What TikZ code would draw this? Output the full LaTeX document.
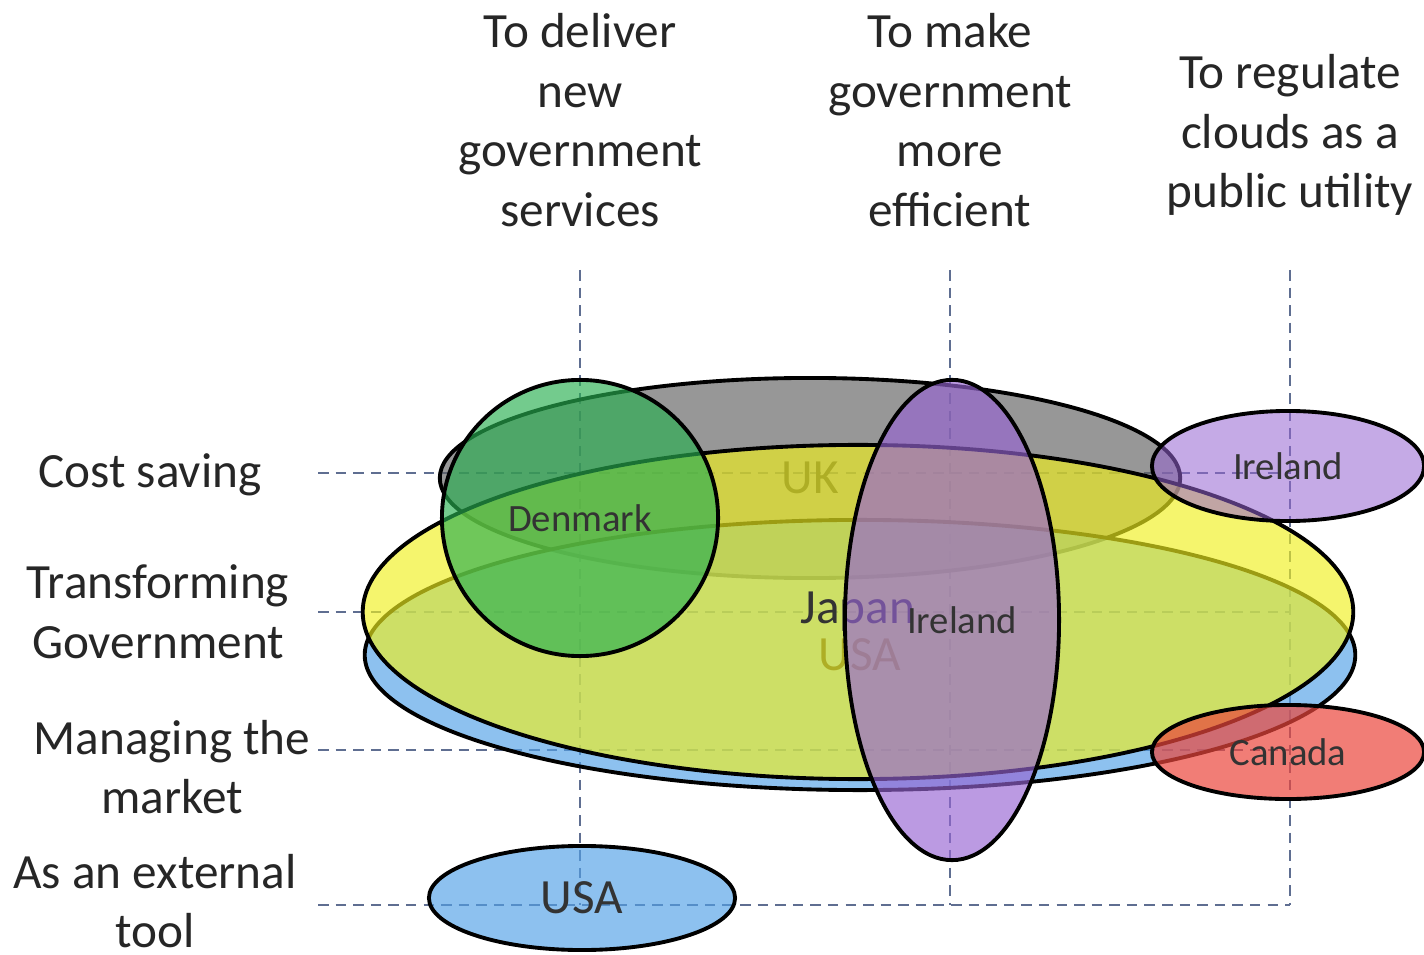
\documentclass[tikz,border=0pt]{standalone}
\usepackage{fontspec}
\setmainfont{Carlito}
\usetikzlibrary{shapes.geometric}
\definecolor{ukgray}{RGB}{95,95,95}
\definecolor{jpyellow}{RGB}{240,240,30}
\definecolor{usblue}{RGB}{80,160,230}
\definecolor{dkgreen}{RGB}{40,175,80}
\definecolor{iepurple}{RGB}{150,100,210}
\definecolor{cared}{RGB}{235,70,60}
\definecolor{guidecol}{RGB}{95,110,145}
\tikzset{
  zone/.style={ellipse,draw=black,line width=1.1pt,fill opacity=0.65,text opacity=1,
    inner sep=0pt,outer sep=0pt,text=black!80,font=\fontsize{11}{13}\selectfont},
  guide/.style={draw=guidecol,line width=0.5pt,dash pattern=on 3pt off 2pt},
  axislbl/.style={align=center,text=black!85,font=\fontsize{14}{17}\selectfont}
}
\begin{document}
\begin{tikzpicture}[x=0.01cm,y=-0.01cm]
\useasboundingbox (0,0) rectangle (1424,955);
% column and row headings
\node[axislbl] (colDeliver) at (580,120) {To deliver\\new\\government\\services};
\node[axislbl] (colEfficient) at (950,120) {To make\\government\\more\\efficient};
\node[axislbl] (colRegulate) at (1290,135) {To regulate\\clouds as a\\public utility};
\node[axislbl] (rowCost) at (150,475) {Cost saving};
\node[axislbl] (rowTransform) at (158,612) {Transforming\\Government};
\node[axislbl] (rowMarket) at (172,767) {Managing the\\market};
\node[axislbl] (rowTool) at (155,901) {As an external\\tool};
% guide lines
\coordinate (cA) at (580,270);
\coordinate (cB) at (950,270);
\coordinate (cC) at (1290,270);
\coordinate (rA) at (318,473);
\coordinate (rB) at (318,612);
\coordinate (rC) at (318,750);
\coordinate (rD) at (318,905);
\draw[guide] (cA) -- (cA |- rD);
\draw[guide] (cB) -- (cB |- rD);
\draw[guide] (cC) -- (cC |- rD);
\draw[guide] (rA) -- (rA -| cC);
\draw[guide] (rB) -- (rB -| cC);
\draw[guide] (rC) -- (rC -| cC);
\draw[guide] (rD) -- (rD -| cC);
% countries
\node[zone,fill=ukgray,minimum width=7.4cm,minimum height=2cm,font=\fontsize{14}{17}\selectfont] (uk) at (810,478) {UK};
\node[zone,fill=usblue,minimum width=9.9cm,minimum height=2.7cm,font=\fontsize{14}{17}\selectfont] (usaBig) at (860,655) {USA};
\node[zone,fill=jpyellow,minimum width=9.9cm,minimum height=3.34cm,font=\fontsize{14}{17}\selectfont] (japan) at (858,612) {Japan};
\node[zone,circle,fill=dkgreen,minimum size=2.76cm] (denmark) at (580,518) {Denmark};
\node[zone,fill=iepurple,minimum width=2.14cm,minimum height=4.8cm] (irelandTall) at (952,620) {\hspace{0.2cm}Ireland};
\node[zone,fill=iepurple,fill opacity=0.55,minimum width=2.72cm,minimum height=1.1cm] (irelandSmall) at (1288,466) {Ireland};
\node[zone,fill=cared,fill opacity=0.7,minimum width=2.72cm,minimum height=0.94cm] (canada) at (1288,752) {Canada};
\node[zone,fill=usblue,minimum width=3.06cm,minimum height=1.04cm,font=\fontsize{14}{17}\selectfont] (usaSmall) at (582,898) {USA};
\end{tikzpicture}
\end{document}
